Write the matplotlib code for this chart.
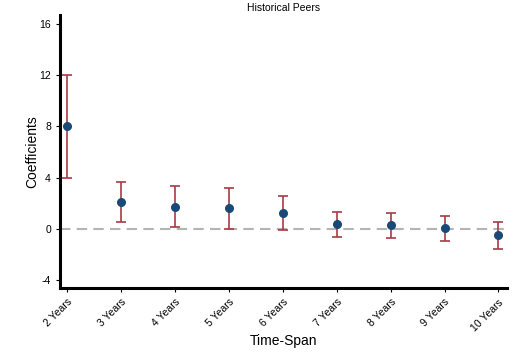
import numpy as np
import matplotlib.pyplot as plt

plt.rcParams['font.family'] = ['Liberation Sans', 'DejaVu Sans']
plt.rcParams['axes.unicode_minus'] = False

# data
labels = ["2 Years", "3 Years", "4 Years", "5 Years", "6 Years",
          "7 Years", "8 Years", "9 Years", "10 Years"]
coef = [8.0, 2.08, 1.74, 1.61, 1.26, 0.37, 0.29, 0.05, -0.47]
upper = [12.0, 3.66, 3.32, 3.21, 2.60, 1.34, 1.26, 1.03, 0.55]
lower = [4.0, 0.53, 0.16, -0.02, -0.10, -0.60, -0.73, -0.95, -1.55]

x = np.arange(len(labels))
coef = np.array(coef)
yerr = [coef - np.array(lower), np.array(upper) - coef]

fig = plt.figure(figsize=(5.31, 3.53), dpi=100)
ax = fig.add_axes([0.113, 0.184, 0.842, 0.774])

ax.axhline(0, color='#b4b4b4', linestyle=(0, (5, 3)), linewidth=1.5, zorder=1)
ax.errorbar(x, coef, yerr=yerr, fmt='none', ecolor='#a83a45', elinewidth=1.2,
            capsize=3.5, capthick=1.2, zorder=2)
ax.scatter(x, coef, s=30, color='#1a4877', zorder=3)

ax.set_xlim(-0.13, 8.16)
ax.set_ylim(-4.6, 16.7)
ax.set_yticks([-4, 0, 4, 8, 12, 16])
ax.set_xticks(x)
ax.set_xticklabels(labels, rotation=45, ha='right', rotation_mode='anchor', fontsize=7.5)
ax.tick_params(axis='y', labelsize=7.5, length=3, width=0.8)
ax.tick_params(axis='x', length=3, width=0.8)

for s in ['top', 'right']:
    ax.spines[s].set_visible(False)
for s in ['left', 'bottom']:
    ax.spines[s].set_linewidth(2.2)

ax.set_ylabel("Coefficients", fontsize=10)
ax.yaxis.set_label_coords(-0.046, 0.5)
ax.set_xlabel("Time-Span", fontsize=10)
ax.xaxis.set_label_coords(0.5, -0.168)
ax.set_title("Historical Peers", fontsize=7.5, pad=3)

plt.savefig("out.png", dpi=100)
